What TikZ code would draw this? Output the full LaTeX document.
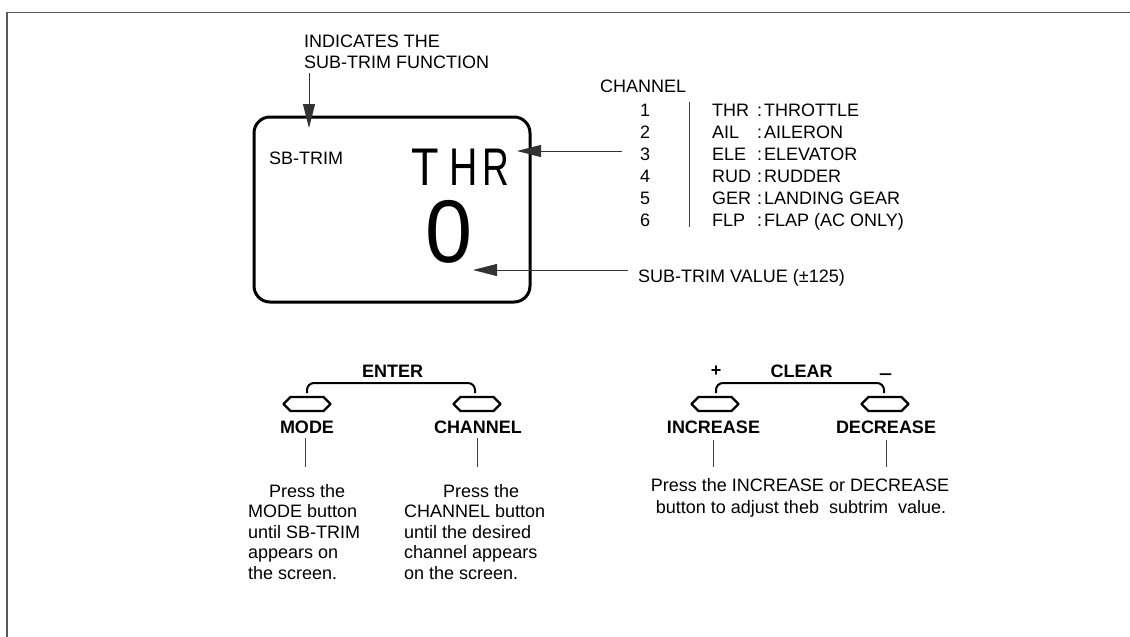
\documentclass[tikz,border=0pt]{standalone}
\usepackage{fontspec}
\setmainfont{Liberation Sans}
\usetikzlibrary{arrows.meta}
\tikzset{
  txt/.style={inner sep=0pt, font=\fontsize{18}{21}\selectfont, anchor=base west},
  ctxt/.style={inner sep=0pt, font=\fontsize{18}{21}\selectfont, anchor=base},
  lbl/.style={inner sep=0pt, font=\fontsize{18}{21}\selectfont\bfseries, anchor=base},
  lcdbig/.style={inner sep=0pt, font=\fontsize{53}{53}\selectfont, anchor=base},
  lcdzero/.style={inner sep=0pt, font=\fontsize{89}{89}\selectfont, anchor=base},
  conn/.style={line width=1pt, black!75},
  arr/.style={line width=1pt, black!80, -{Triangle[length=24pt,width=12pt]}},
  bracketline/.style={line width=2pt, rounded corners=7pt},
  btn/.pic={\draw[line width=2.4pt, line join=round] (-23.5,0) -- (-16.5,-7) -- (16.5,-7) -- (23.5,0) -- (16.5,7) -- (-16.5,7) -- cycle;},
}
\begin{document}
\begin{tikzpicture}[x=1pt,y=-1pt]
\useasboundingbox (0,0) rectangle (1130,637);
% frame
\draw[line width=1.6pt, black!65] (7,637) -- (7,12.5) -- (1130,12.5);

% LCD
\draw[line width=3pt, rounded corners=16pt] (254,117) rectangle (530,302);
\node[txt] (sbtrim) at (269,164) {SB-TRIM};
\node[lcdbig] (lT) at (425,185) {\scalebox{0.85}[1]{T}};
\node[lcdbig] (lH) at (464,185) {\scalebox{0.74}[1]{H}};
\node[lcdbig] (lR) at (495.5,185) {\scalebox{0.7}[1]{R}};
\node[lcdzero] (zero) at (449,262) {\scalebox{0.95}[1]{0}};

% indicates
\node[txt] (ind1) at (304,47) {INDICATES THE};
\node[txt] (ind2) at (304,68) {SUB-TRIM FUNCTION};
\coordinate (indS) at (309,73);
\coordinate (indE) at (309,128);
\draw[arr] (indS) -- (indE);

% channel table
\node[txt] (chh) at (600,92) {CHANNEL};
\foreach \n/\ab/\nm [count=\i from 0] in {1/THR/THROTTLE,2/AIL/AILERON,3/ELE/ELEVATOR,4/RUD/RUDDER,5/GER/LANDING GEAR,6/FLP/FLAP (AC ONLY)}{
  \pgfmathsetmacro{\yy}{116+22.13*\i}
  \node[ctxt] (num\n) at (645,\yy) {\n};
  \node[txt] (ab\n) at (712,\yy) {\ab};
  \node[txt] (col\n) at (757,\yy) {:};
  \node[txt] (nm\n) at (764,\yy) {\nm};
}
\coordinate (vt) at (689,102);
\coordinate (vb) at (689,227);
\draw[conn] (vt) -- (vb);

% arrows to LCD
\coordinate (thrS) at (622,151);
\coordinate (thrE) at (517,151);
\draw[arr] (thrS) -- (thrE);
\node[txt] (stv) at (638,282) {SUB-TRIM VALUE (±125)};
\coordinate (zS) at (628,270);
\coordinate (zE) at (473,270);
\draw[arr] (zS) -- (zE);

% ENTER group
\node[lbl] (enter) at (392.5,377) {ENTER};
\draw[bracketline] (307,393) -- (307,383) -- (475,383) -- (475,393);
\pic at (307,404) {btn};
\pic at (477,404) {btn};
\node[lbl] (mode) at (307,433) {MODE};
\node[lbl] (chan) at (478,433) {CHANNEL};
\coordinate (m1) at (305,438); \coordinate (m2) at (305,467);
\coordinate (c1) at (477,438); \coordinate (c2) at (477,467);
\draw[conn] (m1) -- (m2);
\draw[conn] (c1) -- (c2);

\node[txt] (md0) at (269,497) {Press the};
\node[txt] (md1) at (248,517.6) {MODE button};
\node[txt] (md2) at (248,538.2) {until SB-TRIM};
\node[txt] (md3) at (248,558.8) {appears on};
\node[txt] (md4) at (248,579.4) {the screen.};

\node[txt] (cd0) at (443,497) {Press the};
\node[txt] (cd1) at (404,517.6) {CHANNEL button};
\node[txt] (cd2) at (404,538.2) {until the desired};
\node[txt] (cd3) at (404,558.8) {channel appears};
\node[txt] (cd4) at (404,579.4) {on the screen.};

% CLEAR group
\node[lbl] (plus) at (716,376.5) {+};
\node[lbl] (clear) at (801.5,377) {CLEAR};
\node[lbl] (minus) at (885.5,379) {\scalebox{1.3}[1]{–}};
\draw[bracketline] (716,393) -- (716,383) -- (884,383) -- (884,393);
\pic at (715,404) {btn};
\pic at (885,404) {btn};
\node[lbl] (inc) at (713.5,433) {INCREASE};
\node[lbl] (dec) at (886,433) {DECREASE};
\coordinate (i1) at (713,440); \coordinate (i2) at (713,467);
\coordinate (d1) at (886,440); \coordinate (d2) at (886,467);
\draw[conn] (i1) -- (i2);
\draw[conn] (d1) -- (d2);
\node[ctxt] (id0) at (800,491) {Press the INCREASE or DECREASE};
\node[ctxt] (id1) at (801,513) {button to adjust theb\ \ subtrim\ \ value.};
\end{tikzpicture}
\end{document}
